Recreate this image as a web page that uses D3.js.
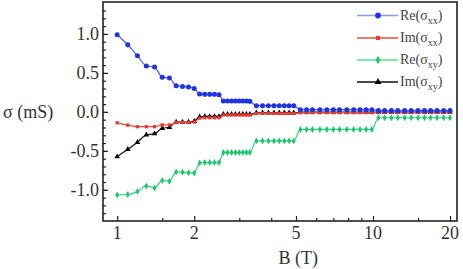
<!DOCTYPE html>
<html>
<head>
<meta charset="utf-8">
<script src="https://cdn.jsdelivr.net/npm/d3@7"></script>
<style>
  body { margin: 0; background: #fff; }
</style>
</head>
<body>
<svg id="chart" width="463" height="269"></svg>
<script>
// magnetic field (T) at each marker
var fieldB = [1.0, 1.1, 1.2, 1.3, 1.4, 1.5, 1.6, 1.7, 1.8, 1.9, 2.0,
    2.1, 2.2, 2.3, 2.4, 2.5,
    2.6, 2.7, 2.8, 2.9, 3.0, 3.1, 3.2, 3.3,
    3.5, 3.7, 3.9, 4.1, 4.3, 4.5, 4.7, 4.9,
    5.2, 5.5, 5.8, 6.2, 6.6, 7.0, 7.4, 7.9, 8.4, 8.9, 9.4, 9.9,
    10.5, 11.1, 11.8, 12.5, 13.3, 14.1, 15.0, 15.9, 16.8, 17.8, 18.9, 20.0];

// conductivity (mS)
var reSxx = [0.99, 0.86, 0.72, 0.59, 0.575, 0.445, 0.435, 0.335, 0.325, 0.32, 0.30,
    0.23, 0.225, 0.225, 0.225, 0.22,
    0.14, 0.14, 0.14, 0.14, 0.14, 0.14, 0.14, 0.135,
    0.08, 0.08, 0.08, 0.08, 0.08, 0.08, 0.08, 0.078,
    0.028, 0.028, 0.028, 0.028, 0.028, 0.028, 0.028, 0.028, 0.028, 0.028, 0.028, 0.027,
    0.016, 0.016, 0.016, 0.016, 0.016, 0.016, 0.016, 0.016, 0.016, 0.016, 0.016, 0.016];
var imSxx = [-0.14, -0.17, -0.19, -0.19, -0.19, -0.167, -0.167, -0.135, -0.135, -0.135, -0.13,
    -0.08, -0.075, -0.075, -0.075, -0.075,
    -0.04, -0.04, -0.04, -0.04, -0.04, -0.04, -0.04, -0.04,
    -0.02, -0.02, -0.02, -0.02, -0.02, -0.02, -0.02, -0.02,
    -0.01, -0.01, -0.01, -0.01, -0.01, -0.01, -0.01, -0.01, -0.01, -0.01, -0.01, -0.01,
    -0.006, -0.006, -0.006, -0.006, -0.006, -0.006, -0.006, -0.006, -0.006, -0.006, -0.006, -0.006];
var reSxy = [-1.065, -1.06, -1.02, -0.95, -0.975, -0.88, -0.89, -0.77, -0.775, -0.78, -0.785,
    -0.655, -0.65, -0.65, -0.65, -0.65,
    -0.52, -0.52, -0.52, -0.52, -0.52, -0.52, -0.52, -0.52,
    -0.372, -0.372, -0.372, -0.372, -0.372, -0.372, -0.372, -0.372,
    -0.225, -0.225, -0.225, -0.225, -0.225, -0.225, -0.225, -0.225, -0.225, -0.225, -0.225, -0.225,
    -0.075, -0.075, -0.075, -0.075, -0.075, -0.075, -0.075, -0.075, -0.075, -0.075, -0.075, -0.075];
var imSxy = [-0.575, -0.48, -0.39, -0.295, -0.28, -0.21, -0.197, -0.13, -0.13, -0.13, -0.12,
    -0.062, -0.058, -0.058, -0.058, -0.058,
    -0.03, -0.03, -0.03, -0.03, -0.03, -0.03, -0.03, -0.03,
    -0.012, -0.012, -0.012, -0.012, -0.012, -0.012, -0.012, -0.012,
    -0.004, -0.004, -0.004, -0.004, -0.004, -0.004, -0.004, -0.004, -0.004, -0.004, -0.004, -0.004,
    -0.002, -0.002, -0.002, -0.002, -0.002, -0.002, -0.002, -0.002, -0.002, -0.002, -0.002, -0.002];

var seriesNames = ['Re', 'Im', 'Re', 'Im'];
var seriesSubs = ['xx', 'xx', 'xy', 'xy'];

var xTickMajor = [1, 2, 5, 10, 20];
var xTickMinor = [1.5, 3, 4, 6, 7, 8, 9, 15];
var yTickMajor = [-1.0, -0.5, 0.0, 0.5, 1.0];

var serif = "'Liberation Serif', 'DejaVu Serif', 'Times New Roman', serif";
var plot = {left: 103, right: 457, top: 2, bottom: 221};

var svg = d3.select("#chart");

var x = d3.scaleLog().domain([0.88, 21.3]).range([plot.left, plot.right]);
var y = d3.scaleLinear().domain([-1.4, 1.41]).range([plot.bottom, plot.top]);

var styles = [
    {line: "#4a5ff0", mark: "#1f33e0", legendLine: "#8c9bf2", shape: d3.symbolCircle, size: 20},
    {line: "#ee4a3e", mark: "#e83a30", legendLine: "#ee4a3e", shape: d3.symbolSquare, size: 11},
    {line: "#2fd27e", mark: "#20c66e", legendLine: "#55e39a", shape: d3.symbolDiamond, size: 14},
    {line: "#111111", mark: "#000000", legendLine: "#111111", shape: d3.symbolTriangle, size: 14}
];
var allSeries = [reSxx, imSxx, reSxy, imSxy];

// Axes (ticks pointing inward)
var yMinor = d3.range(-13, 14).map(function (d) { return d / 10; });
svg.append("g")
    .attr("transform", "translate(" + plot.left + ",0)")
    .call(d3.axisRight(y).tickValues(yMinor).tickSize(3).tickFormat(""))
    .call(function (g) { g.select(".domain").remove(); });
svg.append("g")
    .attr("transform", "translate(" + plot.left + ",0)")
    .call(d3.axisRight(y).tickValues(yTickMajor).tickSize(5).tickFormat(""))
    .call(function (g) { g.select(".domain").remove(); });
svg.append("g")
    .selectAll("text")
    .data(yTickMajor)
    .enter().append("text")
    .attr("x", 99)
    .attr("y", function (d) { return y(d) + 6; })
    .attr("text-anchor", "end")
    .style("font-family", serif)
    .style("font-size", "18px")
    .style("fill", "#333")
    .text(function (d) { return d.toFixed(1); });

svg.append("g")
    .attr("transform", "translate(0," + plot.bottom + ")")
    .call(d3.axisTop(x).tickValues(xTickMinor).tickSize(3).tickFormat(""))
    .call(function (g) { g.select(".domain").remove(); });
svg.append("g")
    .attr("transform", "translate(0," + plot.bottom + ")")
    .call(d3.axisTop(x).tickValues(xTickMajor).tickSize(5).tickFormat(""))
    .call(function (g) { g.select(".domain").remove(); });
svg.append("g")
    .selectAll("text")
    .data(xTickMajor)
    .enter().append("text")
    .attr("x", function (d) { return x(d); })
    .attr("y", 239)
    .attr("text-anchor", "middle")
    .style("font-family", serif)
    .style("font-size", "18px")
    .style("fill", "#333")
    .text(function (d) { return d; });

svg.selectAll(".tick line").attr("stroke", "#222").attr("stroke-width", 1.2);

// frame
svg.append("rect")
    .attr("x", plot.left)
    .attr("y", plot.top)
    .attr("width", plot.right - plot.left)
    .attr("height", plot.bottom - plot.top)
    .attr("fill", "none")
    .attr("stroke", "#222")
    .attr("stroke-width", 1.6);

// axis titles
svg.append("text")
    .attr("x", 3)
    .attr("y", 118)
    .style("font-family", serif)
    .style("font-size", "18px")
    .style("fill", "#333")
    .text("σ (mS)");
svg.append("text")
    .attr("x", x(5.1))
    .attr("y", 264)
    .attr("text-anchor", "middle")
    .style("font-family", serif)
    .style("font-size", "18px")
    .style("fill", "#333")
    .text("B (T)");

// curves
var line = d3.line()
    .x(function (d, i) { return x(fieldB[i]); })
    .y(function (d) { return y(d); })
    .curve(d3.curveMonotoneX);

// draw back to front: black, green, red, blue
[3, 2, 1, 0].forEach(function (k)
{
    var st = styles[k];
    svg.append("path")
        .datum(allSeries[k])
        .attr("fill", "none")
        .attr("stroke", st.line)
        .attr("stroke-width", 1.2)
        .attr("d", line);
    svg.append("g")
        .selectAll("path")
        .data(allSeries[k])
        .enter().append("path")
        .attr("transform", function (d, i) { return "translate(" + x(fieldB[i]) + "," + y(d) + ")"; })
        .attr("d", d3.symbol().type(st.shape).size(st.size))
        .attr("fill", st.mark);
});

// legend
var legendY = [15.5, 38, 60, 82];
var legend = svg.append("g");
seriesNames.forEach(function (name, k)
{
    var st = styles[k];
    var gy = legendY[k];
    legend.append("line")
        .attr("x1", 357).attr("x2", 398)
        .attr("y1", gy).attr("y2", gy)
        .attr("stroke", st.legendLine)
        .attr("stroke-width", 1.4);
    legend.append("path")
        .attr("transform", "translate(378," + gy + ")")
        .attr("d", d3.symbol().type(st.shape).size(st.size + 6))
        .attr("fill", st.mark);
    var t = legend.append("text")
        .attr("x", 400)
        .attr("y", gy + 4)
        .style("font-family", serif)
        .style("font-size", "14px")
        .style("fill", "#444");
    t.append("tspan").text(name + "(σ");
    t.append("tspan").attr("dy", 4).style("font-size", "10px").text(seriesSubs[k]);
    t.append("tspan").attr("dy", -4).text(")");
});
</script>
</body>
</html>
